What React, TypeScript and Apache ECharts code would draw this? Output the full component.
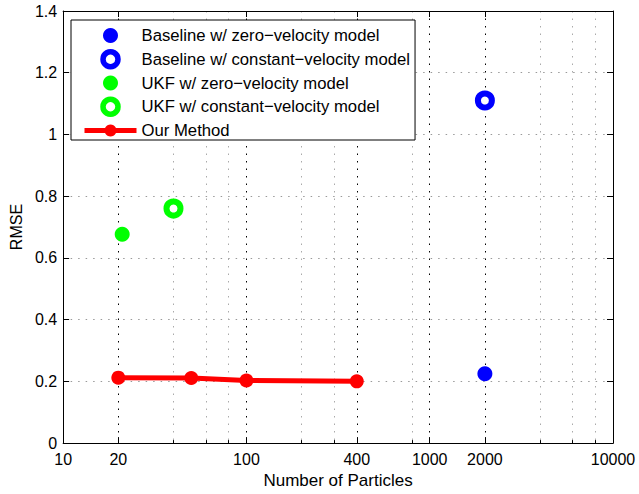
import React, { useEffect, useRef } from 'react';
import * as echarts from 'echarts';

const xMajorTicks = [10, 20, 100, 400, 1000, 2000, 10000];
const xMinorTicks = [40, 60, 80, 200, 300, 800, 4000, 6000, 8000];
const seriesNames = [
  'Baseline w/ zero−velocity model',
  'Baseline w/ constant−velocity model',
  'UKF w/ zero−velocity model',
  'UKF w/ constant−velocity model',
  'Our Method',
];
const baselineZeroVel = [[2000, 0.225]];
const baselineConstVel = [[2000, 1.11]];
const ukfZeroVel = [[21, 0.677]];
const ukfConstVel = [[40, 0.76]];
const ourMethodParticles = [20, 50, 100, 400];
const ourMethodRmse = [0.212, 0.211, 0.203, 0.2];

const FONT = '"Liberation Sans", Arial, Helvetica, sans-serif';

export default function App() {
  const ref = useRef<HTMLDivElement>(null);
  useEffect(() => {
    if (!ref.current) return;
    const chart = echarts.init(ref.current, null, { renderer: 'svg' });
    const dotted = [1.5, 6];
    const option: any = {
      animation: false,
      backgroundColor: '#fff',
      textStyle: { fontFamily: FONT },
      grid: { left: 63, right: 26, top: 11, bottom: 48, containLabel: false },
      legend: {
        orient: 'vertical',
        left: 71,
        top: 20,
        data: [
          { name: seriesNames[0] },
          { name: seriesNames[1], itemStyle: { borderWidth: 5.5 } },
          { name: seriesNames[2] },
          { name: seriesNames[3], itemStyle: { borderWidth: 5.5 } },
          { name: seriesNames[4], lineStyle: { width: 5 } },
        ],
        itemWidth: 52,
        itemHeight: 15,
        itemGap: 5,
        padding: [7, 5, 1, 11],
        borderColor: '#000',
        borderWidth: 1,
        borderRadius: 0,
        backgroundColor: '#fff',
        selectedMode: false,
        textStyle: { fontSize: 16.7, color: '#000', fontFamily: FONT, lineHeight: 16 },
      },
      xAxis: [
        {
          type: 'log',
          logBase: 10,
          min: 10,
          max: 10000,
          position: 'bottom',
          axisLine: { show: true, onZero: false, lineStyle: { color: '#000', width: 1 } },
          axisTick: { show: true, inside: true, length: 6, customValues: xMajorTicks, lineStyle: { color: '#000' } },
          axisLabel: {
            customValues: xMajorTicks,
            formatter: (v: number) => String(Math.round(v)),
            color: '#000',
            fontSize: 16,
            margin: 8,
            fontFamily: FONT,
          },
          splitLine: { show: true, lineStyle: { color: '#000', type: dotted, width: 1 } },
          minorTick: { show: false },
          minorSplitLine: { show: false },
          name: 'Number of Particles',
          nameLocation: 'middle',
          nameGap: 27,
          nameTextStyle: { fontSize: 17, color: '#000', fontFamily: FONT },
        },
        {
          type: 'log',
          logBase: 10,
          min: 10,
          max: 10000,
          position: 'top',
          axisLine: { show: true, onZero: false, lineStyle: { color: '#000', width: 1 } },
          axisTick: { show: true, inside: true, length: 6, customValues: xMajorTicks, lineStyle: { color: '#000' } },
          axisLabel: { show: false },
          splitLine: { show: false },
        },
        {
          type: 'log',
          logBase: 10,
          min: 10,
          max: 10000,
          position: 'bottom',
          axisLine: { show: false, onZero: false },
          axisTick: { show: true, inside: true, length: 3, customValues: xMinorTicks, lineStyle: { color: '#000' } },
          axisLabel: { show: false },
          splitLine: { show: true, lineStyle: { color: '#aaa', type: dotted, width: 1 } },
        },
      ],
      yAxis: [
        {
          type: 'value',
          min: 0,
          max: 1.4,
          interval: 0.2,
          position: 'left',
          axisLine: { show: true, onZero: false, lineStyle: { color: '#000', width: 1 } },
          axisTick: { show: true, inside: true, length: 6, lineStyle: { color: '#000' } },
          axisLabel: { color: '#000', fontSize: 16, margin: 6, fontFamily: FONT },
          splitLine: { show: true, lineStyle: { color: '#999', type: dotted, width: 1 } },
          name: 'RMSE',
          nameLocation: 'middle',
          nameGap: 37,
          nameTextStyle: { fontSize: 16, color: '#000', fontFamily: FONT },
        },
        {
          type: 'value',
          min: 0,
          max: 1.4,
          interval: 0.2,
          position: 'right',
          axisLine: { show: true, onZero: false, lineStyle: { color: '#000', width: 1 } },
          axisTick: { show: true, inside: true, length: 6, lineStyle: { color: '#000' } },
          axisLabel: { show: false },
          splitLine: { show: false },
        },
      ],
      series: [
        {
          name: seriesNames[0],
          type: 'scatter',
          data: baselineZeroVel,
          symbol: 'circle',
          symbolSize: 15,
          itemStyle: { color: '#0000ff', opacity: 1 },
          z: 3,
        },
        {
          name: seriesNames[1],
          type: 'scatter',
          data: baselineConstVel,
          symbol: 'circle',
          symbolSize: 14,
          itemStyle: { color: '#ffffff', borderColor: '#0000ff', borderWidth: 6, opacity: 1 },
          z: 3,
        },
        {
          name: seriesNames[2],
          type: 'scatter',
          data: ukfZeroVel,
          symbol: 'circle',
          symbolSize: 15,
          itemStyle: { color: '#00ff00', opacity: 1 },
          z: 3,
        },
        {
          name: seriesNames[3],
          type: 'scatter',
          data: ukfConstVel,
          symbol: 'circle',
          symbolSize: 14,
          itemStyle: { color: '#ffffff', borderColor: '#00ff00', borderWidth: 6, opacity: 1 },
          z: 3,
        },
        {
          name: seriesNames[4],
          type: 'line',
          data: ourMethodParticles.map((x, i) => [x, ourMethodRmse[i]]),
          symbol: 'circle',
          symbolSize: 14,
          showAllSymbol: true,
          lineStyle: { color: '#ff0000', width: 5 },
          itemStyle: { color: '#ff0000', opacity: 1 },
          z: 3,
        },
      ],
    };
    chart.setOption(option);
    return () => chart.dispose();
  }, []);
  return (
    <div
      ref={ref}
      style={{ position: 'fixed', left: 0, top: 0, width: 639, height: 494, background: '#fff' }}
    />
  );
}
